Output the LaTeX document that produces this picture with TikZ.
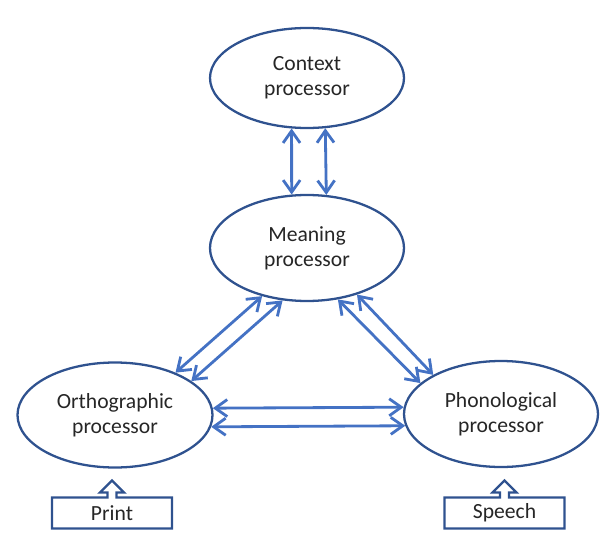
\documentclass[tikz,border=0pt]{standalone}
\usepackage{fontspec}
\setmainfont{Carlito}
\usepackage{xcolor}
\usetikzlibrary{arrows.meta}
\usetikzlibrary{shapes.geometric}

\definecolor{procblue}{RGB}{47,82,143}
\definecolor{linkblue}{RGB}{68,114,196}

\begin{document}
\begin{tikzpicture}[
  proc/.style={ellipse,draw=procblue,line width=1.3pt,inner sep=0pt,
    minimum width=3.88cm,minimum height=2.1cm,align=center,
    font=\fontsize{12.3}{14.2}\selectfont,text=black!85},
  source/.style={minimum width=2.4cm,minimum height=0.62cm,inner sep=0pt,outer sep=0pt,
    font=\fontsize{12.3}{14.2}\selectfont,text=black!85},
  callout/.style={draw=procblue,line width=1.3pt,line join=miter},
  twoway/.style={draw=linkblue,line width=1.6pt,
    {Straight Barb[length=2.4mm,width=3.4mm,line width=1.6pt]}-{Straight Barb[length=2.4mm,width=3.4mm,line width=1.6pt]}}
]
\useasboundingbox (0,0) rectangle (12.16,10.82);
\node[proc,minimum height=2cm] (ctx) at (6.14,9.26) {Context\\processor};
\node[proc,minimum height=2.12cm] (mean) at (6.14,5.86) {Meaning\\processor};
\node[proc,minimum width=3.9cm] (orth) at (2.30,2.52) {Orthographic\\processor};
\node[proc,minimum height=2.12cm] (phon) at (10.02,2.54) {Phonological\\processor};
\node[source] (print) at (2.24,0.56) {Print};
\node[source] (speech) at (10.09,0.56) {Speech};
% input boxes with an up arrow on top
\foreach \src in {print,speech}{
\draw[callout] (\src.south west) -- (\src.north west) -- ([xshift=-0.09cm]\src.north)
  -- ++(0,0.10) -- ++(-0.15,0) -- ++(0.24,0.24) -- ++(0.24,-0.24) -- ++(-0.15,0)
  -- ++(0,-0.10) -- (\src.north east) -- (\src.south east) -- cycle;
}
\draw[twoway] (ctx.253) -- (mean.106);
\draw[twoway] (ctx.290) -- (mean.70.9);
\draw[twoway] (orth.35.6) -- (mean.227.4);
\draw[twoway] (orth.24.8) -- (mean.245.9);
\draw[twoway] (mean.301) -- (phon.159.7);
\draw[twoway] (mean.317.2) -- (phon.150.5);
\draw[twoway] (orth.4) -- (phon.176.4);
\draw[twoway] (orth.-7.2) -- (phon.187.9);
\end{tikzpicture}
\end{document}
